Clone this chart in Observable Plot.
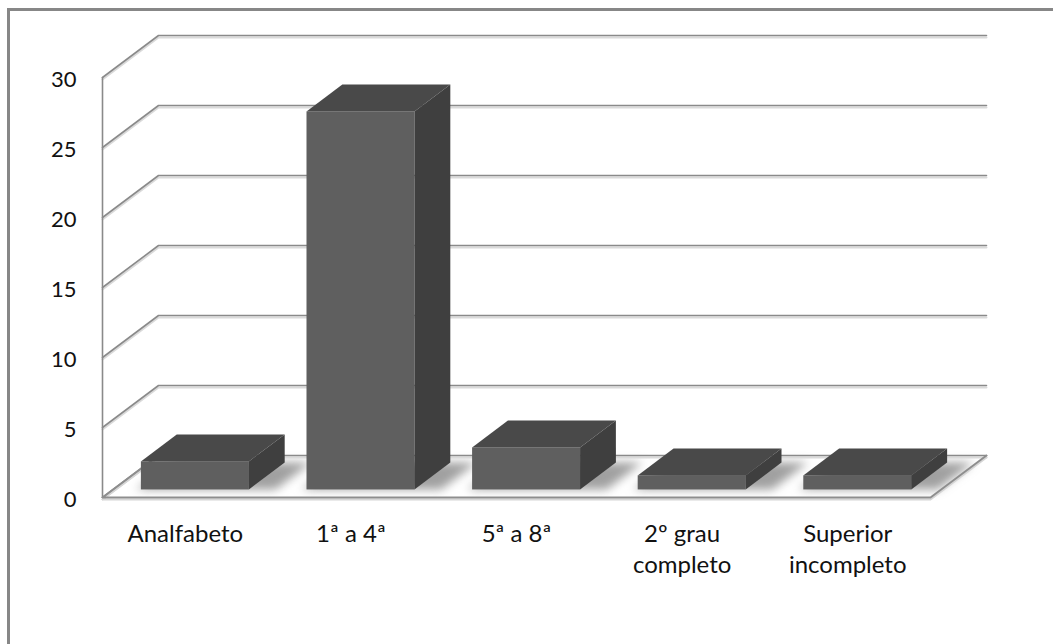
<!DOCTYPE html>
<html>
<head>
<meta charset="utf-8">
<script src="https://cdn.jsdelivr.net/npm/d3@7"></script>
<script src="https://cdn.jsdelivr.net/npm/@observablehq/plot@0.6"></script>
<style>
  html, body { margin: 0; padding: 0; background: #fff; overflow: hidden; }
  #wrap { position: relative; width: 1053px; height: 644px; }
  #frame { position: absolute; left: 7px; top: 8px; width: 1200px; height: 800px;
           border: 3px solid #878787; pointer-events: none; }
  svg { position: absolute; left: 0; top: 0; }
</style>
</head>
<body>
<div id="wrap"><div id="frame"></div></div>
<script>
// ---- data ----
const categories = ["Analfabeto", "1ª a 4ª", "5ª a 8ª", "2º grau\ncompleto", "Superior\nincompleto"];
const values = [2, 27, 3, 1, 1];
const yTicks = [0, 5, 10, 15, 20, 25, 30];

// ---- 3D geometry (in data units) ----
const N = categories.length;
const DX = 56 / 165.6;   // depth offset along x (slot units)
const DY = 3;            // depth offset along y (value units)
const barW = 0.652;      // bar width as fraction of slot
const zf = 0.18, zb = 0.82; // bar front/back depth

const bars = categories.map((c, i) => ({
  c, v: values[i],
  u0: i + (1 - barW) / 2,
  u1: i + (1 + barW) / 2
}));

// floor
const floorArea = [
  {y: 0, x1: 0, x2: N},
  {y: DY, x1: DX, x2: N + DX}
];
const floorOutline = [
  {x: DX, y: DY}, {x: 0, y: 0}, {x: N, y: 0}, {x: N + DX, y: DY}
];

// back wall gridlines + left wall diagonals
const gridPts = [];
yTicks.forEach(t => {
  gridPts.push({t, x: 0, y: t});
  gridPts.push({t, x: DX, y: t + DY});
  gridPts.push({t, x: N + DX, y: t + DY});
});
const leftWall = [{x: 0, y: 0}, {x: 0, y: yTicks[yTicks.length - 1]}];

// bar faces
const frontFaces = bars.map(b => ({
  c: b.c, x1: b.u0 + zf * DX, x2: b.u1 + zf * DX, y1: zf * DY, y2: b.v + zf * DY
}));
const topFaces = bars.flatMap(b => [
  {c: b.c, y: b.v + zf * DY, x1: b.u0 + zf * DX, x2: b.u1 + zf * DX},
  {c: b.c, y: b.v + zb * DY, x1: b.u0 + zb * DX, x2: b.u1 + zb * DX}
]);
const sideFaces = bars.flatMap(b => [
  {c: b.c, x: b.u1 + zf * DX, y1: zf * DY, y2: b.v + zf * DY},
  {c: b.c, x: b.u1 + zb * DX, y1: zb * DY, y2: b.v + zb * DY}
]);
const shadows = bars.flatMap(b => [
  {c: b.c, y: zf * DY, x1: b.u0 + zf * DX - 0.03, x2: b.u1 + zf * DX + 0.16},
  {c: b.c, y: zb * DY, x1: b.u0 + zb * DX, x2: b.u1 + zb * DX + 0.16}
]);

const catLabels = bars.map((b, i) => ({c: b.c, x: i + 0.5, y: 0}));
const tickLabels = yTicks.map(t => ({t, x: 0, y: t}));

const font = "Lato, 'Open Sans', sans-serif";

const chart = Plot.plot({
  width: 1053,
  height: 644,
  marginTop: 0, marginRight: 0, marginBottom: 0, marginLeft: 0,
  x: {type: "linear", domain: [0, N], range: [102, 930], axis: null},
  y: {type: "linear", domain: [0, 30], range: [497, 77], axis: null},
  style: {background: "transparent", overflow: "visible"},
  marks: [
    Plot.areaX(floorArea, {y: "y", x1: "x1", x2: "x2", fill: "#ffffff", curve: "linear"}),
    Plot.areaX(shadows, {y: "y", x1: "x1", x2: "x2", z: "c", fill: "#a0a0a0", curve: "linear"}),
    Plot.line(gridPts, {x: "x", y: "y", z: "t", stroke: "#dadada", strokeWidth: 2, dy: 2, curve: "linear"}),
    Plot.line(gridPts, {x: "x", y: "y", z: "t", stroke: "#8a8a8a", strokeWidth: 1.6, curve: "linear"}),
    Plot.line(leftWall, {x: "x", y: "y", stroke: "#8a8a8a", strokeWidth: 1.6}),
    Plot.line(floorOutline, {x: "x", y: "y", stroke: "#d6d6d6", strokeWidth: 2, dy: 2, curve: "linear"}),
    Plot.line(floorOutline, {x: "x", y: "y", stroke: "#8e8e8e", strokeWidth: 2, curve: "linear"}),
    Plot.rect(frontFaces, {x1: "x1", x2: "x2", y1: "y1", y2: "y2", fill: "#5f5f5f"}),
    Plot.areaX(topFaces, {y: "y", x1: "x1", x2: "x2", z: "c", fill: "#494949", curve: "linear"}),
    Plot.areaY(sideFaces, {x: "x", y1: "y1", y2: "y2", z: "c", fill: "#3f3f3f", curve: "linear"}),
    Plot.text(tickLabels, {x: "x", y: "y", text: d => String(d.t), textAnchor: "end", dx: -26, dy: 2,
      fontSize: 22, fontFamily: font, fill: "#111"}),
    Plot.text(catLabels, {x: "x", y: "y", text: "c", lineAnchor: "top", dy: 22, lineHeight: 1.3,
      fontSize: 24, fontFamily: font, fill: "#111"})
  ]
});

const svg = d3.select(chart);
const f = svg.insert("defs", ":first-child").append("filter")
  .attr("id", "blurShadow").attr("filterUnits", "userSpaceOnUse")
  .attr("x", 0).attr("y", 0).attr("width", 1053).attr("height", 644);
f.append("feGaussianBlur").attr("stdDeviation", 5);
const groups = chart.querySelectorAll(":scope > g");
if (groups.length > 1) groups[1].setAttribute("filter", "url(#blurShadow)");

document.getElementById("wrap").insertBefore(chart, document.getElementById("frame"));
</script>
</body>
</html>
